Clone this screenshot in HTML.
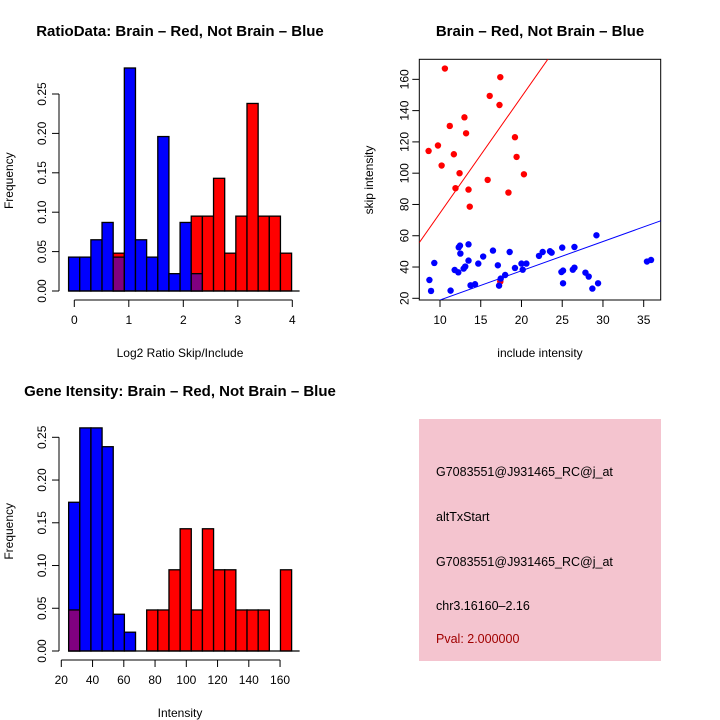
<!DOCTYPE html>
<html><head><meta charset="utf-8"><style>
body{margin:0;background:#fff;}
svg{display:block;font-family:"Liberation Sans",sans-serif;}
</style></head><body>
<svg id="s" width="720" height="720" viewBox="0 0 720 720">
<text x="180" y="36" text-anchor="middle" font-size="15" font-weight="bold">RatioData: Brain – Red, Not Brain – Blue</text>
<text x="540" y="36" text-anchor="middle" font-size="15" font-weight="bold">Brain – Red, Not Brain – Blue</text>
<text x="180" y="396" text-anchor="middle" font-size="15" font-weight="bold">Gene Itensity: Brain – Red, Not Brain – Blue</text>
<g id="h1"></g>
<g id="h2"></g>
<g id="sc"></g>
<g>
<rect x="419" y="419" width="242" height="242" fill="#f4c4cf"/>
<g font-size="12.5">
<text x="436" y="476">G7083551@J931465_RC@j_at</text>
<text x="436" y="521">altTxStart</text>
<text x="436" y="566">G7083551@J931465_RC@j_at</text>
<text x="436" y="610">chr3.16160–2.16</text>
<text x="436" y="643" fill="#a00000">Pval: 2.000000</text>
</g></g>
</svg>
<script>
const NS="http://www.w3.org/2000/svg";
// Ratio histogram data
const ratioBlue=[0.043,0.043,0.065,0.087,0.043,0.283,0.065,0.043,0.196,0.022,0.087,0.022,0,0,0,0,0,0,0,0];
const ratioRed=[0,0,0,0,0.048,0,0,0,0,0,0,0.095,0.095,0.143,0.048,0.095,0.238,0.095,0.095,0.048];
const ratioXTicks=[0,1,2,3,4];
const ratioYTicks=["0.00","0.05","0.10","0.15","0.20","0.25"];
// Intensity histogram data
const intBlue=[0.174,0.261,0.261,0.239,0.043,0.022,0,0,0,0,0,0,0,0,0,0,0,0,0,0];
const intRed=[0.048,0,0,0,0,0,0,0.048,0.048,0.095,0.143,0.048,0.143,0.095,0.095,0.048,0.048,0.048,0,0.095];
const intXTicks=[20,40,60,80,100,120,140,160];
const intYTicks=["0.00","0.05","0.10","0.15","0.20","0.25"];
// Scatter data
const redX=[10.6,17.4,16.1,17.3,13.0,11.2,13.2,19.2,9.75,8.6,11.7,19.4,10.2,12.4,20.3,15.85,11.9,13.5,18.4,13.65,17.4];
const redY=[166.9,161.4,149.4,143.6,135.7,130.2,125.5,123,117.7,114.2,112.1,110.4,104.9,100,99.3,95.7,90.4,89.5,87.6,78.6,30.7];
const blueX=[29.2,13.5,12.45,12.3,26.5,25.0,16.5,18.55,22.6,23.5,23.7,12.5,22.15,15.3,35.9,35.4,13.5,9.3,14.7,20.0,20.6,17.1,13.1,12.9,11.8,26.5,26.3,19.2,20.15,25.1,24.9,12.25,27.85,28.25,18.0,17.45,8.7,29.4,25.1,14.3,13.75,17.25,28.7,8.9,11.3];
const blueY=[60.3,54.5,53.7,52.6,52.8,52.4,50.5,49.6,49.6,50.1,49.2,48.6,47.1,46.7,44.5,43.5,44.1,42.6,42.2,42.2,42.2,41.1,40.3,39,38.1,39.6,38.3,39.4,38.3,37.7,36.8,36.6,36.4,33.9,34.9,32.6,31.7,29.6,29.6,29.0,28.3,28.1,26.2,24.7,24.9];
const lineFits=[{slope:7.43,icpt:0.2,col:"#ff0000"},{slope:1.87,icpt:0.2,col:"#0000ff"}];
const scXTicks=[10,15,20,25,30,35];
const scYTicks=[20,40,60,80,100,120,140,160];

function el(tag,attrs,parent){const e=document.createElementNS(NS,tag);for(const k in attrs)e.setAttribute(k,attrs[k]);parent.appendChild(e);return e;}
function txt(parent,x,y,s,attrs){const t=el("text",Object.assign({x:x,y:y,"font-size":12},attrs||{}),parent);t.textContent=s;return t;}

function hist(gid,blue,red,x0,bw,xs,ys,xTicks,yTicks,xAxisY,xlab,name){
  const g=document.getElementById(gid);
  for(let i=0;i<blue.length;i++){
    const b=blue[i],r=red[i];const xa=xs(x0+i*bw),xb=xs(x0+(i+1)*bw);
    const lo=Math.min(b,r),hi=Math.max(b,r);
    if(hi<=0)continue;
    const top=ys(hi),mid=ys(lo),base=ys(0);
    const col=b>=r?"#0000ff":"#ff0000";
    const bar=el("rect",{x:xa,y:top,width:xb-xa,height:base-top,fill:col,stroke:"#000","stroke-width":1.3},g);
    
    
    if(lo>0){
      const p=el("rect",{x:xa,y:mid,width:xb-xa,height:base-mid,fill:"#800080",stroke:"#000","stroke-width":1.3},g);
      
      
    }
  }
  const base=ys(0);
  el("line",{x1:xs(x0),x2:xs(x0+blue.length*bw)+8,y1:base,y2:base,stroke:"#000","stroke-width":1.3},g);
  const yv=yTicks.map(Number);
  el("line",{x1:59,x2:59,y1:ys(yv[0]),y2:ys(yv[yv.length-1]),stroke:"#000"},g);
  yTicks.forEach(t=>{const y=ys(Number(t));el("line",{x1:52,x2:59,y1:y,y2:y,stroke:"#000"},g);
    const tt=txt(g,46,y,t,{"text-anchor":"middle",transform:`rotate(-90 46 ${y})`});
    });
  el("line",{x1:xs(xTicks[0]),x2:xs(xTicks[xTicks.length-1]),y1:xAxisY,y2:xAxisY,stroke:"#000"},g);
  xTicks.forEach(t=>{const x=xs(t);el("line",{x1:x,x2:x,y1:xAxisY,y2:xAxisY+7,stroke:"#000"},g);
    const tt=txt(g,x,xAxisY+24,String(t),{"text-anchor":"middle"});
    });
  const yl=txt(g,13,(ys(0)+ys(0.28))/2,"Frequency",{"text-anchor":"middle",transform:`rotate(-90 13 ${(ys(0)+ys(0.28))/2})`});
  
  const xl=txt(g,180,xAxisY+57,xlab,{"text-anchor":"middle"});
  
}
hist("h1",ratioBlue,ratioRed,-0.105,0.2046,v=>74.3+v*54.5,v=>291-v*788,ratioXTicks,ratioYTicks,300,"Log2 Ratio Skip/Include","ratio");
hist("h2",intBlue,intRed,24.7,7.135,v=>61.3+(v-20)*1.5625,v=>651-v*854.8,intXTicks,intYTicks,660,"Intensity","intensity");

(function(){
  const g=document.getElementById("sc");
  const X0=419.3,X1=660.7,Y0=59.3,Y1=300;
  const xs=v=>440+(v-10)*8.148, ys=v=>298.3-(v-20)*1.564;
  const xmin=(X0-440)/8.148+10,xmax=(X1-440)/8.148+10;
  const cp=el("clipPath",{id:"cp"},g);el("rect",{x:X0,y:Y0,width:X1-X0,height:Y1-Y0},cp);
  el("rect",{x:X0,y:Y0,width:X1-X0,height:Y1-Y0,fill:"none",stroke:"#000"},g);
  const pts=el("g",{"clip-path":"url(#cp)"},g);
  redX.forEach((x,i)=>{const c=el("circle",{cx:xs(x),cy:ys(redY[i]),r:3.2,fill:"#ff0000"},pts);
    });
  blueX.forEach((x,i)=>{const c=el("circle",{cx:xs(x),cy:ys(blueY[i]),r:3.2,fill:"#0000ff"},pts);
    });
  lineFits.forEach(f=>{const l=el("line",{x1:xs(xmin),y1:ys(f.icpt+f.slope*xmin),x2:xs(xmax),y2:ys(f.icpt+f.slope*xmax),stroke:f.col,"stroke-width":1},pts);
    });
  scXTicks.forEach(t=>{const x=xs(t);el("line",{x1:x,x2:x,y1:Y1,y2:Y1+7,stroke:"#000"},g);
    const tt=txt(g,x,Y1+24,String(t),{"text-anchor":"middle"});});
  scYTicks.forEach(t=>{const y=ys(t);el("line",{x1:X0-7,x2:X0,y1:y,y2:y,stroke:"#000"},g);
    const tt=txt(g,X0-11,y,String(t),{"text-anchor":"middle",transform:`rotate(-90 ${X0-11} ${y})`});});
  const xl=txt(g,540,357,"include intensity",{"text-anchor":"middle"});
  const yl=txt(g,373,180,"skip intensity",{"text-anchor":"middle",transform:"rotate(-90 373 180)"});
})();
</script>
</body></html>
